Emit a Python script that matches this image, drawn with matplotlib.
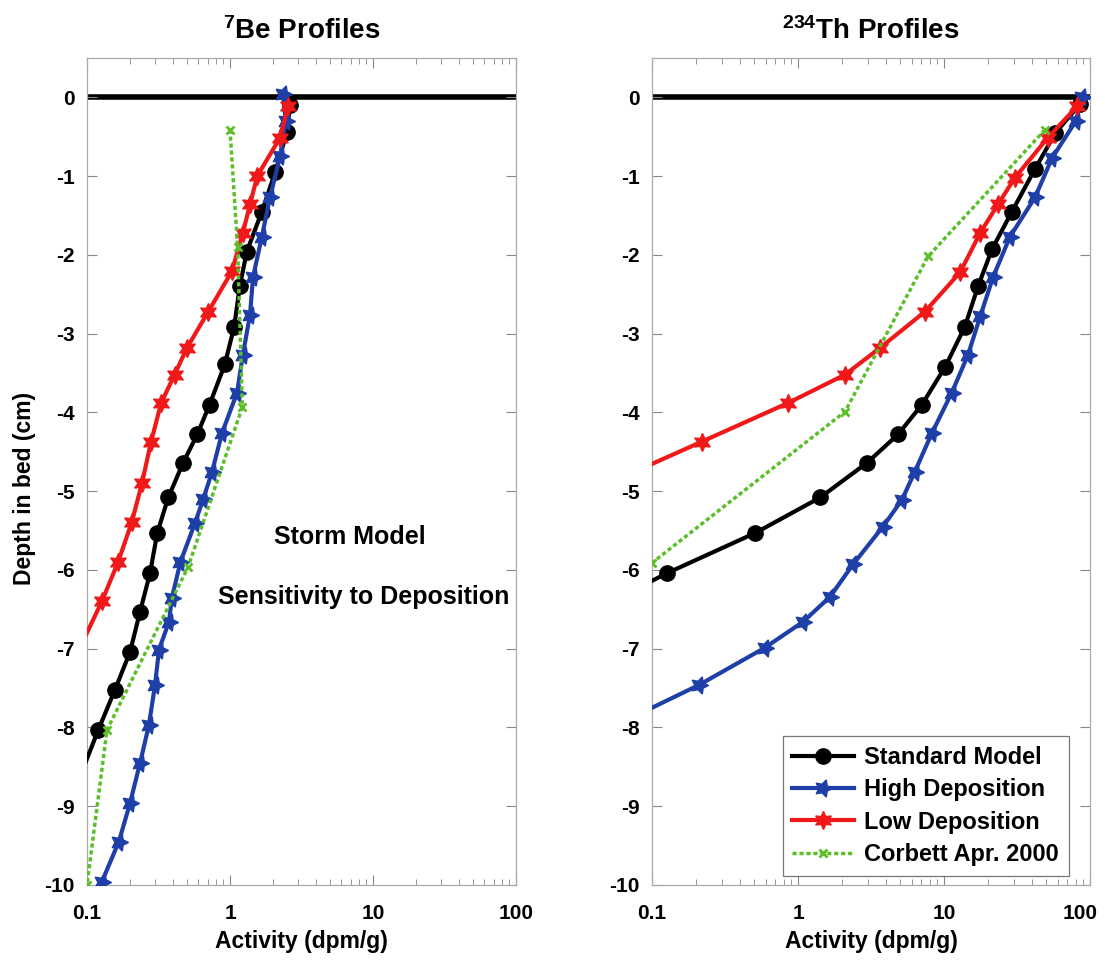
import numpy as np
import matplotlib
matplotlib.use("Agg")
import matplotlib.pyplot as plt
from matplotlib.transforms import ScaledTranslation
from matplotlib.ticker import LogLocator, NullFormatter, FixedLocator, FixedFormatter

# Be-7 profiles (activity in dpm/g vs depth in cm)
be_std_depth = [-0.1, -0.44, -0.95, -1.45, -1.96, -2.4, -2.91, -3.39, -3.9, -4.28, -4.64,
                -5.08, -5.53, -6.04, -6.53, -7.04, -7.52, -8.03, -8.5]
be_std_act = [2.63, 2.5, 2.07, 1.67, 1.31, 1.17, 1.07, 0.92, 0.72, 0.59, 0.47,
              0.37, 0.31, 0.276, 0.235, 0.20, 0.157, 0.12, 0.095]

be_high_depth = [0.04, -0.3, -0.75, -1.26, -1.77, -2.28, -2.76, -3.27, -3.75, -4.26, -4.75,
                 -5.1, -5.4, -5.9, -6.35, -6.66, -7.01, -7.46, -7.97, -8.45, -8.96, -9.45, -9.96]
be_high_act = [2.35, 2.45, 2.24, 1.91, 1.67, 1.45, 1.38, 1.23, 1.12, 0.88, 0.75,
               0.65, 0.57, 0.45, 0.393, 0.374, 0.319, 0.299, 0.271, 0.235, 0.20, 0.167, 0.127]

be_low_depth = [-0.11, -0.51, -1.0, -1.36, -1.72, -2.21, -2.73, -3.18, -3.52, -3.88, -4.38,
                -4.89, -5.39, -5.9, -6.4, -6.9]
be_low_act = [2.55, 2.24, 1.55, 1.38, 1.23, 1.03, 0.70, 0.50, 0.41, 0.33, 0.28,
              0.243, 0.206, 0.165, 0.127, 0.094]

be_obs_depth = [-0.41, -1.9, -3.93, -5.96, -8.03, -10.0]
be_obs_act = [1.0, 1.13, 1.22, 0.51, 0.138, 0.1]

# Th-234 profiles
th_std_depth = [-0.09, -0.45, -0.91, -1.45, -1.93, -2.4, -2.91, -3.42, -3.9, -4.28, -4.64,
                -5.08, -5.53, -6.04, -6.15]
th_std_act = [85, 58, 42, 29.2, 21.3, 17.1, 13.9, 10.2, 7.07, 4.84, 2.97,
              1.42, 0.51, 0.127, 0.097]

th_high_depth = [0.0, -0.3, -0.77, -1.27, -1.77, -2.28, -2.78, -3.27, -3.75, -4.26, -4.75,
                 -5.11, -5.45, -5.93, -6.34, -6.66, -6.99, -7.46, -7.8]
th_high_act = [88, 80, 55, 42, 28.3, 21.7, 17.7, 14.6, 11.3, 8.28, 6.32,
               5.15, 3.82, 2.38, 1.66, 1.08, 0.59, 0.21, 0.088]

th_low_depth = [-0.11, -0.51, -1.02, -1.36, -1.72, -2.22, -2.72, -3.18, -3.52, -3.88, -4.37, -4.7]
th_low_act = [82, 51.5, 30.6, 23.4, 17.7, 12.9, 7.41, 3.65, 2.10, 0.855, 0.22, 0.088]

th_obs_depth = [-0.41, -2.02, -3.99, -5.91]
th_obs_act = [49.2, 7.77, 2.10, 0.1]

series_names = ["Standard Model", "High Deposition", "Low Deposition", "Corbett Apr. 2000"]
x_ticks = [0.1, 1, 10, 100]
x_tick_labels = ["0.1", "1", "10", "100"]

plt.rcParams["font.family"] = ["Liberation Sans", "DejaVu Sans"]
plt.rcParams["font.weight"] = "bold"
plt.rcParams["axes.unicode_minus"] = False
plt.rcParams["mathtext.fontset"] = "custom"
plt.rcParams["mathtext.bf"] = "Liberation Sans:bold"
plt.rcParams["mathtext.rm"] = "Liberation Sans:bold"

BLACK = "#000000"
BLUE = "#1f3fa8"
RED = "#f01818"
GREEN = "#5cbf2a"

star6 = (6, 1, 0)
star5 = (5, 1, -90)


def on_axis(act):
    # only put markers on points that fall inside the plotted range
    return [i for i, v in enumerate(act) if v >= 0.0999]


def draw_panel(ax, std, high, low, obs, title):
    ax.axhline(0, color="black", lw=4, zorder=1)
    ax.plot(std[1], std[0], color=BLACK, lw=3, marker="o", ms=11, zorder=3,
            markevery=on_axis(std[1]), label=series_names[0])
    ax.plot(high[1], high[0], color=BLUE, lw=3, marker=star5, ms=13, zorder=3,
            markevery=on_axis(high[1]), label=series_names[1])
    ax.plot(low[1], low[0], color=RED, lw=3, marker=star6, ms=13, zorder=4,
            markevery=on_axis(low[1]), label=series_names[2])
    ax.plot(obs[1], obs[0], color=GREEN, lw=2.5, ls=(0, (1.2, 0.8)), marker="x",
            ms=6, mew=2, zorder=5, label=series_names[3])
    ax.set_xscale("log")
    ax.set_xlim(0.1, 100)
    ax.set_ylim(-10, 0.5)
    ax.xaxis.set_major_locator(FixedLocator(x_ticks))
    ax.xaxis.set_major_formatter(FixedFormatter(x_tick_labels))
    ax.xaxis.set_minor_locator(LogLocator(base=10, subs=np.arange(2, 10)))
    ax.xaxis.set_minor_formatter(NullFormatter())
    ax.set_yticks(np.arange(-10, 1, 1))
    ax.tick_params(which="both", direction="in", top=True, right=True,
                   color="#888888", labelsize=15)
    ax.tick_params(axis="x", pad=14)
    ax.tick_params(axis="y", pad=9)
    ax.tick_params(which="major", length=7)
    ax.tick_params(which="minor", length=4)
    for s in ax.spines.values():
        s.set_color("#aaaaaa")
        s.set_linewidth(0.9)
    ax.set_xlabel("Activity (dpm/g)", fontsize=16.5, fontweight="bold", labelpad=5)
    ax.set_title(title, fontsize=20, fontweight="bold", pad=14)


fig = plt.figure(figsize=(11.05, 9.64), dpi=100)
ax1 = fig.add_axes([87 / 1105, 1 - 885 / 964, 429 / 1105, 827 / 964])
ax2 = fig.add_axes([652 / 1105, 1 - 885 / 964, 438 / 1105, 827 / 964])

draw_panel(ax1, (be_std_depth, be_std_act), (be_high_depth, be_high_act),
           (be_low_depth, be_low_act), (be_obs_depth, be_obs_act),
           r"$\mathbf{^{7}}$Be Profiles")
draw_panel(ax2, (th_std_depth, th_std_act), (th_high_depth, th_high_act),
           (th_low_depth, th_low_act), (th_obs_depth, th_obs_act),
           r"$\mathbf{^{234}}$Th Profiles")

# keep the last x label of the right panel inside the figure
last = ax2.xaxis.get_major_ticks()[-1].label1
last.set_transform(last.get_transform() + ScaledTranslation(-10 / 100, 0, fig.dpi_scale_trans))

ax1.set_ylabel("Depth in bed (cm)", fontsize=16.5, fontweight="bold")
ax1.yaxis.set_label_coords(-0.118, 0.48)
ax1.text(0.613, 0.421, "Storm Model", transform=ax1.transAxes, ha="center",
         va="center", fontsize=18, fontweight="bold")
ax1.text(0.646, 0.348, "Sensitivity to Deposition", transform=ax1.transAxes,
         ha="center", va="center", fontsize=18, fontweight="bold")

leg = ax2.legend(loc="lower right", fontsize=17, frameon=True, fancybox=False,
                 borderaxespad=0.4, handlelength=2.6, labelspacing=0.4,
                 handletextpad=0.45, borderpad=0.4)
leg.set_bbox_to_anchor((1 - 12 / 438, 0.0), transform=ax2.transAxes)
leg.get_frame().set_edgecolor("#555555")
leg.get_frame().set_linewidth(0.9)

fig.savefig("out.png", dpi=100)
